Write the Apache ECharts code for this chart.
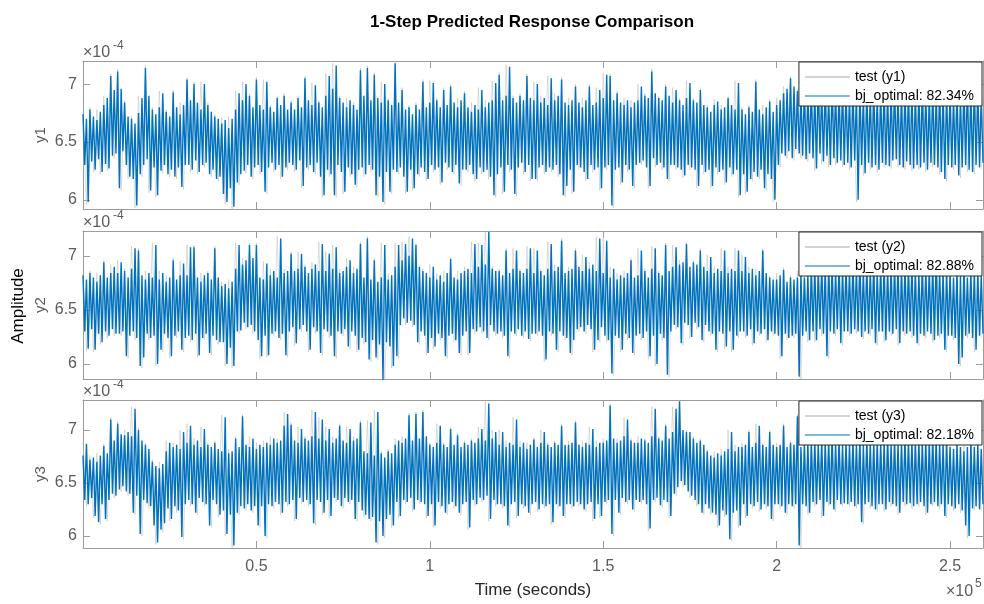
<!DOCTYPE html>
<html>
<head>
<meta charset="utf-8">
<script src="https://cdn.jsdelivr.net/npm/echarts@6/dist/echarts.min.js"></script>
<style>
html, body { margin: 0; padding: 0; background: #fff; }
#main { width: 984px; height: 604px; }
</style>
</head>
<body>
<div id="main"></div>
<script>
// values are in units of 1e-4, one column = max / min of the trace over 1000 s
var y1Hi = [
  6.74, 6.70, 6.78, 6.72, 6.69, 6.76, 6.82, 6.88, 7.07, 6.95,
  7.11, 6.96, 6.84, 6.72, 6.70, 6.66, 6.75, 6.88, 7.14, 6.90,
  6.78, 6.74, 6.80, 6.92, 6.76, 6.72, 6.93, 6.80, 6.74, 6.82,
  7.04, 6.86, 7.00, 6.84, 6.78, 7.00, 6.82, 6.76, 6.72, 6.70,
  6.66, 6.69, 6.62, 6.70, 6.78, 6.92, 6.86, 7.00, 6.90, 6.80,
  7.04, 6.82, 6.78, 7.02, 6.80, 6.76, 6.88, 6.82, 6.90, 6.78,
  6.84, 6.78, 6.88, 6.80, 7.05, 6.86, 6.82, 6.99, 6.84, 6.80,
  6.90, 7.07, 6.96, 7.16, 6.88, 6.84, 6.80, 6.86, 6.82, 6.78,
  7.12, 6.90, 7.14, 6.86, 7.08, 6.88, 6.84, 7.00, 6.86, 6.82,
  7.18, 6.84, 6.95, 6.78, 6.80, 6.74, 6.82, 6.78, 7.02, 6.80,
  6.84, 7.01, 6.86, 6.80, 6.95, 6.82, 6.98, 6.84, 6.80, 6.86,
  6.92, 6.80, 6.76, 6.82, 6.78, 6.95, 6.80, 6.84, 6.86, 7.01,
  7.08, 6.86, 6.90, 7.15, 6.88, 6.84, 6.90, 6.86, 7.07, 6.88,
  6.86, 7.00, 6.84, 6.88, 6.82, 7.05, 6.86, 6.90, 7.04, 6.84,
  6.82, 6.86, 6.98, 6.84, 6.80, 6.86, 6.98, 6.82, 6.84, 6.95,
  6.88, 7.08, 7.07, 6.86, 6.92, 6.84, 6.82, 6.86, 6.80, 6.84,
  6.86, 6.98, 6.90, 6.88, 7.11, 6.92, 6.88, 6.86, 6.98, 6.90,
  6.84, 6.95, 6.86, 6.82, 6.88, 7.01, 6.86, 6.84, 6.95, 6.82,
  6.80, 6.76, 6.82, 6.85, 6.78, 6.80, 6.88, 6.82, 6.78, 7.01,
  6.78, 6.74, 6.80, 6.76, 7.02, 6.78, 6.74, 6.80, 6.85, 6.76,
  6.82, 6.86, 6.92, 6.96, 7.05, 6.98, 6.94, 6.90, 6.96, 6.92,
  6.96, 6.92, 7.02, 6.94, 6.98, 6.90, 7.00, 6.94, 6.92, 6.98,
  6.94, 6.90, 6.96, 6.92, 6.98, 6.90, 6.94, 6.92, 6.96, 6.90,
  6.92, 6.96, 6.90, 6.94, 6.98, 6.92, 6.90, 6.96, 6.92, 6.94,
  6.90, 6.94, 6.98, 6.92, 6.88, 6.96, 6.90, 7.00, 6.92, 6.94,
  6.92, 6.88, 6.94, 6.90, 6.96, 7.02, 6.92, 7.00, 6.94, 6.90
];
var y1Lo = [
  6.30, 5.98, 6.33, 6.26, 6.35, 6.24, 6.31, 6.27, 6.38, 6.40,
  6.10, 6.42, 6.30, 6.20, 6.18, 5.95, 6.22, 6.30, 6.35, 6.08,
  6.28, 6.04, 6.25, 6.30, 6.22, 6.26, 6.20, 6.28, 6.11, 6.30,
  6.30, 6.26, 6.34, 6.24, 6.30, 6.32, 6.22, 6.26, 6.18, 6.20,
  6.05, 5.98, 6.10, 5.94, 6.15, 6.22, 6.25, 6.30, 6.20, 6.28,
  6.30, 6.24, 6.07, 6.28, 6.32, 6.26, 6.30, 6.20, 6.28, 6.32,
  6.30, 6.26, 6.34, 6.12, 6.28, 6.30, 6.24, 6.32, 6.20, 6.04,
  6.26, 6.22, 6.04, 6.30, 6.24, 6.07, 6.28, 6.22, 6.13, 6.26,
  6.28, 6.22, 6.30, 6.26, 6.04, 6.20, 5.98, 6.24, 6.07, 6.26,
  6.24, 6.28, 6.20, 6.07, 6.26, 6.10, 6.22, 6.28, 6.24, 6.18,
  6.30, 6.26, 6.28, 6.15, 6.32, 6.28, 6.24, 6.30, 6.14, 6.26,
  6.26, 6.30, 6.22, 6.18, 6.28, 6.24, 6.26, 6.20, 6.04, 6.22,
  6.28, 6.07, 6.30, 6.26, 6.05, 6.28, 6.32, 6.24, 6.30, 6.18,
  6.18, 6.28, 6.30, 6.24, 6.28, 6.26, 6.30, 6.22, 6.04, 6.12,
  6.26, 6.07, 6.30, 6.28, 6.24, 6.18, 6.30, 6.26, 6.28, 6.10,
  6.28, 6.30, 5.95, 6.26, 6.28, 6.15, 6.30, 6.26, 6.12, 6.30,
  6.32, 6.34, 6.28, 6.12, 6.36, 6.30, 6.32, 6.28, 6.18, 6.30,
  6.30, 6.28, 6.26, 6.21, 6.30, 6.28, 6.26, 6.12, 6.30, 6.24,
  6.26, 6.12, 6.28, 6.24, 6.26, 6.15, 6.28, 6.22, 6.26, 6.04,
  6.22, 6.07, 6.18, 6.24, 6.20, 6.26, 6.10, 6.22, 6.18, 6.00,
  6.30, 6.40, 6.38, 6.42, 6.36, 6.44, 6.40, 6.38, 6.35, 6.40,
  6.36, 6.27, 6.40, 6.33, 6.38, 6.30, 6.36, 6.32, 6.34, 6.30,
  6.32, 6.28, 6.34, 6.00, 6.30, 6.23, 6.32, 6.28, 6.30, 6.26,
  6.32, 6.30, 6.29, 6.34, 6.35, 6.30, 6.28, 6.33, 6.30, 6.27,
  6.30, 6.28, 6.32, 6.26, 6.32, 6.30, 6.28, 6.24, 6.18, 6.30,
  6.28, 6.30, 6.21, 6.28, 6.30, 6.26, 6.24, 6.30, 6.28, 6.32
];
var y2Hi = [
  6.82, 6.78, 6.84, 6.80, 6.76, 6.82, 6.94, 6.80, 6.84, 6.90,
  6.84, 6.94, 6.86, 6.80, 6.88, 7.07, 7.05, 6.82, 6.78, 6.84,
  6.80, 7.10, 6.78, 6.84, 6.76, 6.80, 6.96, 6.78, 6.82, 6.93,
  6.82, 7.08, 7.08, 6.80, 6.76, 6.82, 6.84, 6.78, 7.07, 6.80,
  6.72, 6.74, 6.70, 6.76, 6.88, 7.10, 6.92, 6.96, 7.10, 6.98,
  7.10, 6.80, 6.78, 6.93, 6.82, 6.86, 6.80, 7.16, 6.84, 6.86,
  7.02, 6.86, 6.88, 7.02, 6.90, 6.84, 6.88, 6.92, 6.86, 7.11,
  6.86, 7.02, 6.88, 7.08, 6.84, 6.86, 6.90, 6.96, 6.84, 6.88,
  7.11, 6.80, 7.16, 6.78, 6.96, 6.76, 6.80, 7.10, 6.78, 6.82,
  6.90, 7.10, 6.96, 7.11, 7.00, 7.16, 7.10, 6.90, 6.86, 6.84,
  6.80, 6.90, 6.78, 6.82, 6.76, 6.84, 6.97, 6.80, 6.78, 6.84,
  6.86, 6.88, 6.84, 7.11, 6.90, 7.10, 6.92, 7.22, 6.88, 6.86,
  6.86, 6.82, 7.05, 6.84, 6.88, 7.05, 6.86, 6.84, 6.88, 7.07,
  6.84, 7.05, 6.86, 6.82, 6.88, 7.11, 6.86, 6.90, 7.14, 6.84,
  6.86, 6.88, 7.05, 6.90, 6.86, 6.99, 6.88, 6.92, 6.86, 7.16,
  6.84, 7.14, 6.80, 6.88, 6.78, 6.82, 6.80, 6.84, 6.96, 6.80,
  6.82, 7.05, 6.86, 6.80, 6.88, 7.07, 6.84, 6.82, 7.10, 6.86,
  6.90, 7.08, 6.92, 6.94, 7.11, 6.90, 6.94, 6.92, 7.05, 6.90,
  6.86, 6.99, 6.84, 6.88, 6.86, 7.05, 6.84, 6.88, 6.86, 7.05,
  6.86, 6.99, 6.84, 6.88, 6.82, 6.86, 7.05, 6.84, 6.80, 6.78,
  6.78, 6.82, 6.87, 6.76, 6.80, 6.78, 6.80, 6.84, 6.80, 6.82,
  6.88, 6.90, 6.86, 6.92, 6.88, 6.94, 6.90, 6.86, 6.92, 6.88,
  6.90, 6.86, 6.92, 6.88, 6.94, 6.86, 6.90, 6.88, 6.92, 6.86,
  6.88, 6.92, 6.86, 6.90, 6.88, 6.94, 6.86, 6.90, 6.88, 6.92,
  6.86, 6.84, 6.90, 6.88, 6.86, 6.92, 7.00, 6.86, 6.84, 6.88,
  6.84, 6.80, 6.86, 6.82, 6.88, 6.80, 6.84, 6.86, 6.85, 6.82
];
var y2Lo = [
  6.30, 6.14, 6.32, 6.13, 6.28, 6.20, 6.30, 6.26, 6.32, 6.28,
  6.28, 6.30, 6.07, 6.26, 6.30, 6.24, 5.98, 6.06, 6.28, 6.24,
  6.26, 6.00, 6.13, 6.28, 6.24, 6.07, 6.26, 6.30, 6.13, 6.24,
  6.26, 6.22, 6.28, 6.08, 6.24, 6.28, 6.10, 6.26, 6.22, 6.20,
  6.20, 6.00, 6.15, 5.98, 6.30, 6.31, 6.38, 6.34, 6.36, 6.30,
  6.22, 6.07, 6.26, 6.08, 6.28, 6.30, 6.24, 6.28, 6.08, 6.30,
  6.34, 6.19, 6.32, 6.36, 6.30, 6.13, 6.34, 6.30, 6.10, 6.32,
  6.30, 6.26, 6.07, 6.30, 6.28, 6.32, 6.16, 6.30, 6.26, 6.13,
  6.24, 6.20, 6.04, 6.22, 6.06, 6.18, 5.85, 6.20, 6.16, 5.98,
  6.07, 6.36, 6.42, 6.38, 6.40, 6.36, 6.20, 6.30, 6.26, 6.10,
  6.24, 6.16, 6.28, 6.24, 6.07, 6.26, 6.28, 6.22, 6.10, 6.26,
  6.30, 6.10, 6.32, 6.30, 6.34, 6.30, 6.24, 6.36, 6.30, 6.28,
  6.30, 6.26, 6.07, 6.30, 6.28, 6.32, 6.26, 6.30, 6.23, 6.28,
  6.28, 6.30, 6.26, 6.04, 6.30, 6.28, 6.13, 6.30, 6.26, 6.24,
  6.10, 6.22, 6.32, 6.34, 6.30, 6.36, 6.32, 6.13, 6.22, 6.34,
  6.26, 6.22, 5.91, 6.26, 6.24, 6.13, 6.28, 6.24, 6.10, 6.26,
  6.28, 6.24, 6.30, 6.07, 6.26, 6.00, 6.28, 6.24, 5.90, 6.30,
  6.36, 6.34, 6.19, 6.38, 6.36, 6.25, 6.38, 6.34, 6.22, 6.36,
  6.30, 6.28, 6.13, 6.30, 6.28, 6.16, 6.30, 6.13, 6.26, 6.30,
  6.30, 6.26, 6.32, 6.19, 6.30, 6.28, 6.32, 6.22, 6.30, 6.28,
  6.26, 6.07, 6.28, 6.24, 6.26, 6.28, 5.88, 6.26, 6.30, 6.22,
  6.30, 6.22, 6.32, 6.28, 6.07, 6.30, 6.28, 6.32, 6.19, 6.30,
  6.30, 6.28, 6.32, 6.30, 6.25, 6.30, 6.28, 6.32, 6.19, 6.30,
  6.30, 6.22, 6.30, 6.28, 6.32, 6.19, 6.30, 6.28, 6.30, 6.26,
  6.19, 6.28, 6.26, 6.30, 6.28, 6.22, 6.26, 6.28, 6.13, 6.26,
  6.26, 6.24, 6.00, 6.06, 6.26, 6.28, 6.24, 6.13, 6.26, 6.28
];
var y3Hi = [
  6.76, 6.87, 6.72, 6.74, 6.70, 6.76, 6.85, 6.78, 7.10, 6.90,
  7.06, 6.96, 6.95, 6.98, 6.94, 7.20, 7.00, 6.90, 6.86, 6.82,
  6.70, 6.66, 6.64, 6.68, 6.80, 6.88, 6.84, 6.86, 6.82, 6.98,
  6.88, 7.04, 6.86, 6.90, 6.84, 7.01, 6.86, 6.84, 6.88, 6.82,
  6.80, 7.12, 6.78, 6.80, 6.92, 6.84, 7.13, 6.86, 6.84, 6.92,
  6.82, 6.86, 6.84, 6.88, 6.86, 6.92, 6.88, 6.90, 7.04, 7.15,
  7.05, 6.90, 6.88, 7.01, 6.92, 6.90, 6.94, 7.17, 6.92, 7.10,
  6.90, 7.01, 6.88, 6.92, 7.04, 6.90, 6.88, 7.01, 6.90, 6.92,
  7.07, 6.80, 6.78, 7.07, 6.76, 7.17, 6.78, 6.74, 6.80, 6.78,
  6.86, 6.90, 6.88, 6.92, 7.14, 6.90, 7.15, 6.92, 7.17, 6.94,
  6.86, 6.84, 6.88, 7.04, 6.86, 6.84, 7.01, 6.86, 6.95, 6.84,
  6.88, 6.86, 6.90, 6.88, 6.92, 7.01, 6.90, 7.25, 6.92, 6.98,
  6.86, 6.98, 6.84, 6.88, 6.86, 7.10, 6.84, 6.88, 6.82, 6.86,
  6.91, 6.84, 6.88, 6.98, 6.86, 6.84, 6.88, 6.86, 7.04, 6.86,
  6.86, 6.88, 7.07, 6.86, 6.84, 6.88, 6.86, 7.01, 6.84, 6.88,
  6.88, 6.90, 7.23, 6.92, 6.88, 6.90, 6.94, 7.10, 6.90, 6.88,
  6.88, 6.92, 6.90, 6.88, 6.94, 7.20, 6.92, 6.90, 7.04, 6.92,
  6.98, 7.20, 7.27, 7.00, 6.98, 6.98, 6.92, 6.88, 6.90, 6.86,
  6.80, 6.76, 6.74, 6.78, 6.76, 6.80, 6.82, 6.98, 6.80, 6.84,
  6.84, 6.86, 6.98, 6.84, 6.88, 7.04, 6.86, 6.84, 6.98, 6.86,
  6.84, 6.86, 7.04, 6.84, 6.88, 6.86, 7.13, 6.84, 6.86, 6.88,
  6.88, 6.90, 6.86, 6.92, 6.88, 6.90, 6.94, 6.88, 6.90, 6.86,
  6.88, 6.86, 6.90, 6.88, 6.92, 6.86, 6.90, 6.88, 6.86, 6.90,
  6.86, 6.88, 6.92, 6.86, 6.90, 6.88, 6.86, 6.92, 6.88, 6.90,
  6.88, 6.90, 6.86, 6.92, 6.88, 6.94, 6.90, 6.88, 6.86, 6.92,
  6.84, 6.82, 6.86, 6.84, 6.80, 6.84, 6.88, 6.84, 6.86, 6.82
];
var y3Lo = [
  6.34, 6.30, 6.36, 6.19, 6.13, 6.30, 6.16, 6.34, 6.40, 6.38,
  6.44, 6.47, 6.42, 6.40, 6.22, 6.38, 6.02, 6.34, 6.31, 6.28,
  6.10, 5.94, 6.06, 6.12, 6.26, 6.16, 6.28, 6.24, 5.99, 6.30,
  6.34, 6.30, 6.22, 6.36, 6.32, 6.30, 6.10, 6.34, 6.30, 6.20,
  6.24, 6.02, 6.20, 5.91, 6.22, 6.28, 6.26, 6.30, 6.24, 6.28,
  6.10, 6.28, 6.00, 6.30, 6.28, 6.32, 6.30, 6.22, 6.32, 6.30,
  6.34, 6.16, 6.36, 6.32, 6.34, 6.30, 6.12, 6.34, 6.32, 6.22,
  6.34, 6.19, 6.36, 6.34, 6.28, 6.36, 6.32, 6.34, 6.16, 6.32,
  6.24, 6.20, 6.16, 6.18, 5.94, 6.14, 6.00, 6.16, 6.20, 6.10,
  6.32, 6.19, 6.34, 6.32, 6.36, 6.25, 6.34, 6.32, 6.30, 6.19,
  6.30, 6.10, 6.32, 6.28, 6.22, 6.30, 6.32, 6.28, 6.22, 6.30,
  6.32, 6.08, 6.34, 6.30, 6.36, 6.34, 6.38, 6.16, 6.34, 6.30,
  6.30, 6.28, 6.10, 6.30, 6.32, 6.19, 6.30, 6.28, 6.22, 6.30,
  6.32, 6.25, 6.30, 6.28, 6.30, 6.13, 6.30, 6.28, 6.19, 6.30,
  6.30, 6.28, 6.32, 6.30, 6.25, 6.30, 6.32, 6.16, 6.30, 6.19,
  6.32, 6.34, 6.02, 6.34, 6.22, 6.36, 6.32, 6.34, 6.25, 6.34,
  6.32, 6.34, 6.30, 6.07, 6.34, 6.36, 6.29, 6.34, 6.32, 6.19,
  6.40, 6.46, 6.52, 6.48, 6.42, 6.38, 6.34, 6.30, 6.22, 6.30,
  6.26, 6.22, 6.20, 6.10, 6.24, 6.20, 5.97, 6.22, 6.24, 6.10,
  6.30, 6.19, 6.30, 6.28, 6.32, 6.25, 6.30, 6.28, 6.16, 6.30,
  6.30, 6.28, 6.22, 6.30, 6.28, 6.30, 5.91, 6.30, 6.28, 6.22,
  6.32, 6.30, 6.34, 6.19, 6.32, 6.30, 6.25, 6.34, 6.30, 6.31,
  6.30, 6.32, 6.28, 6.30, 6.13, 6.30, 6.32, 6.28, 6.25, 6.30,
  6.30, 6.25, 6.32, 6.30, 6.28, 6.22, 6.32, 6.30, 6.31, 6.28,
  6.30, 6.32, 6.28, 6.22, 6.30, 6.32, 6.28, 6.30, 6.19, 6.30,
  6.28, 6.26, 6.30, 6.24, 6.10, 6.00, 6.26, 6.28, 6.25, 6.30
];

// measured (test) data, one column = max / min over 2000 s
var t1Hi = [
  6.76, 6.80, 6.78, 6.90, 7.09,  7.13, 6.86, 6.72, 6.90, 7.16,
  6.80, 6.94, 6.78, 6.95, 6.84,  7.06, 7.02, 7.02, 6.84, 6.74,
  6.71, 6.72, 6.94, 7.02, 6.92,  7.06, 7.04, 6.82, 6.90, 6.92,
  6.86, 6.90, 7.07, 7.01, 6.86,  7.09, 7.18, 6.90, 6.88, 6.84,
  7.14, 7.16, 7.10, 7.02, 6.88,  7.19, 6.97, 6.82, 6.84, 7.04,
  7.03, 6.88, 6.97, 7.00, 6.88,  6.94, 6.84, 6.97, 6.86, 7.03,
  7.10, 7.17, 6.90, 6.92, 7.09,  7.02, 6.90, 7.07, 6.92, 7.06,
  6.88, 7.00, 6.88, 7.00, 6.97,  7.10, 7.09, 6.94, 6.88, 6.86,
  7.00, 6.92, 7.13, 6.90, 7.00,  6.97, 6.88, 7.03, 6.88, 6.97,
  6.82, 6.87, 6.82, 6.90, 7.03,  6.80, 6.82, 7.04, 6.82, 6.87,
  6.88, 6.98, 7.07, 6.96, 6.98,  6.98, 7.04, 7.00, 7.02, 7.00,
  6.96, 6.98, 7.00, 6.96, 6.98,  6.98, 6.96, 7.00, 6.98, 6.96,
  6.96, 7.00, 6.98, 7.02, 6.96,  6.94, 6.96, 7.04, 7.02, 6.96
];
var t1Lo = [
  5.96, 6.24, 6.22, 6.25, 6.36,  6.08, 6.18, 5.93, 6.20, 6.06,
  6.02, 6.23, 6.20, 6.18, 6.09,  6.24, 6.22, 6.28, 6.20, 6.16,
  5.96, 5.92, 6.13, 6.23, 6.18,  6.22, 6.05, 6.24, 6.18, 6.26,
  6.24, 6.10, 6.26, 6.22, 6.02,  6.20, 6.02, 6.05, 6.20, 6.11,
  6.20, 6.24, 6.02, 5.96, 6.05,  6.22, 6.05, 6.08, 6.20, 6.16,
  6.24, 6.13, 6.26, 6.22, 6.12,  6.24, 6.16, 6.22, 6.18, 6.02,
  6.05, 6.24, 6.03, 6.22, 6.16,  6.16, 6.22, 6.24, 6.20, 6.02,
  6.05, 6.26, 6.16, 6.24, 6.08,  6.26, 5.93, 6.13, 6.24, 6.10,
  6.30, 6.10, 6.28, 6.26, 6.16,  6.26, 6.19, 6.26, 6.10, 6.22,
  6.10, 6.22, 6.13, 6.20, 6.02,  6.05, 6.16, 6.18, 6.08, 5.98,
  6.28, 6.36, 6.34, 6.36, 6.33,  6.25, 6.31, 6.28, 6.30, 6.28,
  6.26, 5.98, 6.21, 6.26, 6.24,  6.28, 6.27, 6.28, 6.26, 6.25,
  6.26, 6.24, 6.28, 6.22, 6.16,  6.26, 6.19, 6.24, 6.22, 6.26
];
var t2Hi = [
  6.84, 6.86, 6.84, 6.96, 6.92,  6.96, 6.88, 7.09, 7.07, 6.86,
  7.12, 6.86, 6.82, 6.98, 6.95,  7.10, 7.10, 6.84, 6.86, 7.09,
  6.76, 6.78, 7.12, 6.98, 7.12,  7.12, 6.95, 6.88, 7.18, 6.88,
  7.04, 7.04, 6.92, 6.94, 7.13,  7.04, 7.10, 6.88, 6.98, 6.90,
  7.13, 7.18, 6.98, 7.12, 6.84,  7.12, 7.13, 7.18, 7.12, 6.88,
  6.92, 6.84, 6.86, 6.99, 6.86,  6.90, 7.13, 7.12, 7.23, 6.90,
  6.88, 7.07, 7.07, 6.88, 7.09,  7.07, 6.88, 7.13, 6.92, 7.16,
  6.90, 7.07, 7.01, 6.94, 7.18,  7.16, 6.90, 6.84, 6.86, 6.98,
  7.07, 6.88, 7.09, 6.86, 7.12,  7.10, 6.96, 7.13, 6.96, 7.07,
  7.01, 6.90, 7.07, 6.90, 7.07,  7.01, 6.90, 6.88, 7.07, 6.82,
  6.84, 6.89, 6.82, 6.86, 6.84,  6.92, 6.94, 6.96, 6.92, 6.94,
  6.92, 6.94, 6.96, 6.92, 6.94,  6.94, 6.92, 6.96, 6.92, 6.94,
  6.88, 6.92, 6.94, 7.02, 6.90,  6.86, 6.88, 6.90, 6.88, 6.87
];
var t2Lo = [
  6.12, 6.11, 6.18, 6.24, 6.26,  6.26, 6.05, 6.22, 5.96, 6.22,
  5.98, 6.11, 6.05, 6.24, 6.11,  6.20, 6.06, 6.22, 6.08, 6.18,
  5.98, 5.96, 6.28, 6.32, 6.28,  6.05, 6.06, 6.26, 6.22, 6.06,
  6.17, 6.30, 6.11, 6.28, 6.08,  6.24, 6.05, 6.26, 6.14, 6.11,
  6.18, 6.02, 6.04, 5.83, 5.96,  6.05, 6.36, 6.34, 6.18, 6.08,
  6.14, 6.22, 6.05, 6.20, 6.08,  6.08, 6.28, 6.28, 6.22, 6.26,
  6.24, 6.05, 6.26, 6.24, 6.21,  6.26, 6.02, 6.26, 6.11, 6.22,
  6.08, 6.30, 6.28, 6.11, 6.20,  6.20, 5.89, 6.11, 6.22, 6.08,
  6.22, 6.05, 5.98, 6.22, 5.88,  6.32, 6.17, 6.23, 6.32, 6.20,
  6.26, 6.11, 6.14, 6.11, 6.24,  6.24, 6.17, 6.26, 6.20, 6.26,
  6.05, 6.22, 6.24, 5.86, 6.20,  6.20, 6.26, 6.05, 6.26, 6.17,
  6.26, 6.28, 6.23, 6.26, 6.17,  6.20, 6.26, 6.17, 6.26, 6.24,
  6.17, 6.24, 6.20, 6.24, 6.11,  6.22, 5.98, 6.24, 6.11, 6.24
];
var t3Hi = [
  6.89, 6.76, 6.78, 6.87, 7.12,  7.08, 7.00, 7.22, 7.02, 6.88,
  6.72, 6.70, 6.90, 6.88, 7.00,  7.06, 6.92, 7.03, 6.88, 6.90,
  7.14, 6.82, 6.94, 7.15, 6.94,  6.88, 6.90, 6.94, 6.92, 7.17,
  7.07, 7.03, 6.94, 7.19, 7.12,  7.03, 6.94, 7.06, 7.03, 6.94,
  7.09, 7.09, 7.19, 6.80, 6.82,  6.92, 6.94, 7.16, 7.17, 7.19,
  6.88, 7.06, 6.88, 7.03, 6.97,  6.90, 6.92, 7.03, 7.27, 7.00,
  7.00, 6.90, 7.12, 6.90, 6.88,  6.93, 7.00, 6.88, 6.90, 7.06,
  6.90, 7.09, 6.90, 7.03, 6.90,  6.92, 7.25, 6.92, 7.12, 6.92,
  6.94, 6.92, 7.22, 6.94, 7.06,  7.22, 7.28, 7.00, 6.94, 6.92,
  6.82, 6.80, 6.82, 7.00, 6.86,  6.88, 7.00, 7.06, 6.88, 7.00,
  6.88, 7.06, 6.90, 7.15, 6.90,  6.92, 6.94, 6.92, 6.96, 6.92,
  6.90, 6.92, 6.94, 6.92, 6.92,  6.90, 6.94, 6.92, 6.94, 6.92,
  6.92, 6.94, 6.96, 6.92, 6.94,  6.86, 6.88, 6.86, 6.90, 6.88
];
var t3Lo = [
  6.28, 6.17, 6.11, 6.14, 6.36,  6.42, 6.38, 6.20, 6.00, 6.26,
  5.92, 6.04, 6.14, 6.22, 5.97,  6.28, 6.20, 6.28, 6.08, 6.18,
  6.00, 5.89, 6.20, 6.24, 6.22,  6.08, 5.98, 6.26, 6.20, 6.28,
  6.14, 6.30, 6.28, 6.10, 6.20,  6.17, 6.32, 6.26, 6.30, 6.14,
  6.18, 6.14, 5.92, 5.98, 6.08,  6.17, 6.30, 6.23, 6.30, 6.17,
  6.08, 6.26, 6.20, 6.26, 6.20,  6.06, 6.28, 6.32, 6.14, 6.28,
  6.26, 6.08, 6.17, 6.26, 6.20,  6.23, 6.26, 6.11, 6.26, 6.17,
  6.26, 6.28, 6.23, 6.14, 6.17,  6.30, 6.00, 6.20, 6.30, 6.23,
  6.30, 6.05, 6.32, 6.27, 6.17,  6.38, 6.46, 6.36, 6.28, 6.20,
  6.20, 6.08, 6.18, 5.95, 6.08,  6.17, 6.26, 6.23, 6.26, 6.14,
  6.26, 6.20, 6.26, 5.89, 6.20,  6.28, 6.17, 6.28, 6.23, 6.28,
  6.28, 6.26, 6.11, 6.26, 6.23,  6.23, 6.28, 6.20, 6.28, 6.26,
  6.28, 6.20, 6.28, 6.26, 6.17,  6.24, 6.22, 5.98, 6.24, 6.23
];

var outputs = ['y1', 'y2', 'y3'];
var fitPercent = ['82.34%', '82.88%', '82.18%'];
var yTicks = [6, 6.5, 7];
var xTicks = [0.5, 1, 1.5, 2, 2.5];   // x 1e5 seconds
var tEnd = 259500;

var predHi = [y1Hi, y2Hi, y3Hi], predLo = [y1Lo, y2Lo, y3Lo];
var testHi = [t1Hi, t2Hi, t3Hi], testLo = [t1Lo, t2Lo, t3Lo];

// max of a column first, then its min, half a column later
function zigzag(hi, lo, colWidth) {
  var out = [];
  for (var i = 0; i < hi.length; i++) {
    out.push([i * colWidth, hi[i]]);
    out.push([i * colWidth + colWidth / 2, lo[i]]);
  }
  return out;
}

var font = 'Liberation Sans, Arial, sans-serif';
var boxColor = '#9c9c9c';
var labelColor = '#5c5c5c';
var grids = [
  { top: 61, yMin: 5.92, yMax: 7.20 },
  { top: 231, yMin: 5.86, yMax: 7.23 },
  { top: 400, yMin: 5.887, yMax: 7.283 }
];
var xTickVals = xTicks.map(function (v) { return v * 1e5; });

var option = {
  animation: false,
  grid: [], xAxis: [], yAxis: [], series: [], legend: [],
  graphic: [
    { type: 'text', x: 532, y: 22, style: { text: '1-Step Predicted Response Comparison', font: 'bold 17px ' + font, fill: '#000', textAlign: 'center', textVerticalAlign: 'middle' } },
    { type: 'text', x: 18, y: 306, rotation: Math.PI / 2, style: { text: 'Amplitude', font: '17px ' + font, fill: '#000', textAlign: 'center', textVerticalAlign: 'middle' } },
    { type: 'text', x: 946, y: 592, style: { text: '×10', font: '16px ' + font, fill: labelColor, textVerticalAlign: 'middle' } },
    { type: 'text', x: 975, y: 584, style: { text: '5', font: '12px ' + font, fill: labelColor, textVerticalAlign: 'middle' } }
  ]
};

grids.forEach(function (g, k) {
  option.grid.push({ left: 83, right: 1, top: g.top, height: 148 });
  var tick = { inside: true, length: 7, customValues: xTickVals, lineStyle: { color: boxColor } };
  option.xAxis.push({
    type: 'value', gridIndex: k, min: 0, max: tEnd, position: 'bottom',
    axisLine: { onZero: false, lineStyle: { color: boxColor } },
    axisTick: tick,
    axisLabel: k === 2 ? {
      customValues: xTickVals, margin: 11, fontSize: 16, fontFamily: font, color: labelColor,
      formatter: function (v) { return String(v / 1e5); }
    } : { show: false },
    splitLine: { show: false },
    name: k === 2 ? 'Time (seconds)' : '', nameLocation: 'middle', nameGap: 34,
    nameMoveOverlap: false,
    nameTextStyle: { fontSize: 17, fontFamily: font, color: '#262626' }
  });
  option.xAxis.push({
    type: 'value', gridIndex: k, min: 0, max: tEnd, position: 'top',
    axisLine: { onZero: false, lineStyle: { color: boxColor } },
    axisTick: tick, axisLabel: { show: false }, splitLine: { show: false }
  });
  var ytick = { inside: true, length: 7, customValues: yTicks, lineStyle: { color: boxColor } };
  option.yAxis.push({
    type: 'value', gridIndex: k, min: g.yMin, max: g.yMax, position: 'left',
    axisLine: { show: true, onZero: false, lineStyle: { color: boxColor } },
    axisTick: ytick,
    axisLabel: { customValues: yTicks, margin: 6, fontSize: 16, fontFamily: font, color: labelColor },
    splitLine: { show: false },
    name: outputs[k], nameLocation: 'middle', nameGap: 35, nameMoveOverlap: false,
    nameTextStyle: { fontSize: 15, fontFamily: font, color: labelColor }
  });
  option.yAxis.push({
    type: 'value', gridIndex: k, min: g.yMin, max: g.yMax, position: 'right',
    axisLine: { show: true, onZero: false, lineStyle: { color: boxColor } },
    axisTick: ytick, axisLabel: { show: false }, splitLine: { show: false }
  });

  var testName = 'test (' + outputs[k] + ')';
  var predName = 'bj_optimal: ' + fitPercent[k];
  option.series.push({
    name: testName, type: 'line', xAxisIndex: 2 * k, yAxisIndex: 2 * k,
    data: zigzag(testHi[k], testLo[k], 2000), symbol: 'none', silent: true,
    lineStyle: { color: '#bdbdbd', width: 0.5 }, itemStyle: { color: '#a8a8a8' }
  });
  option.series.push({
    name: predName, type: 'line', xAxisIndex: 2 * k, yAxisIndex: 2 * k,
    data: zigzag(predHi[k], predLo[k], 1000), symbol: 'none', silent: true,
    lineStyle: { color: '#0072BD', width: 1.4 }, itemStyle: { color: '#0072BD' }
  });
  option.legend.push({
    data: [testName, predName], orient: 'vertical', right: 2, top: g.top + 1,
    backgroundColor: '#fff', borderColor: '#262626', borderWidth: 1,
    padding: [8, 8, 3, 6], itemGap: 5, itemWidth: 45, itemHeight: 1.2, icon: 'rect',
    selectedMode: false,
    textStyle: { fontSize: 14, fontFamily: font, color: '#000' }
  });
  option.graphic.push(
    { type: 'text', x: 83, y: g.top - 8, style: { text: '×10', font: '16px ' + font, fill: labelColor, textVerticalAlign: 'middle' } },
    { type: 'text', x: 113, y: g.top - 15, style: { text: '-4', font: '12px ' + font, fill: labelColor, textVerticalAlign: 'middle' } }
  );
});

var chart = echarts.init(document.getElementById('main'));
chart.setOption(option);
</script>
</body>
</html>
